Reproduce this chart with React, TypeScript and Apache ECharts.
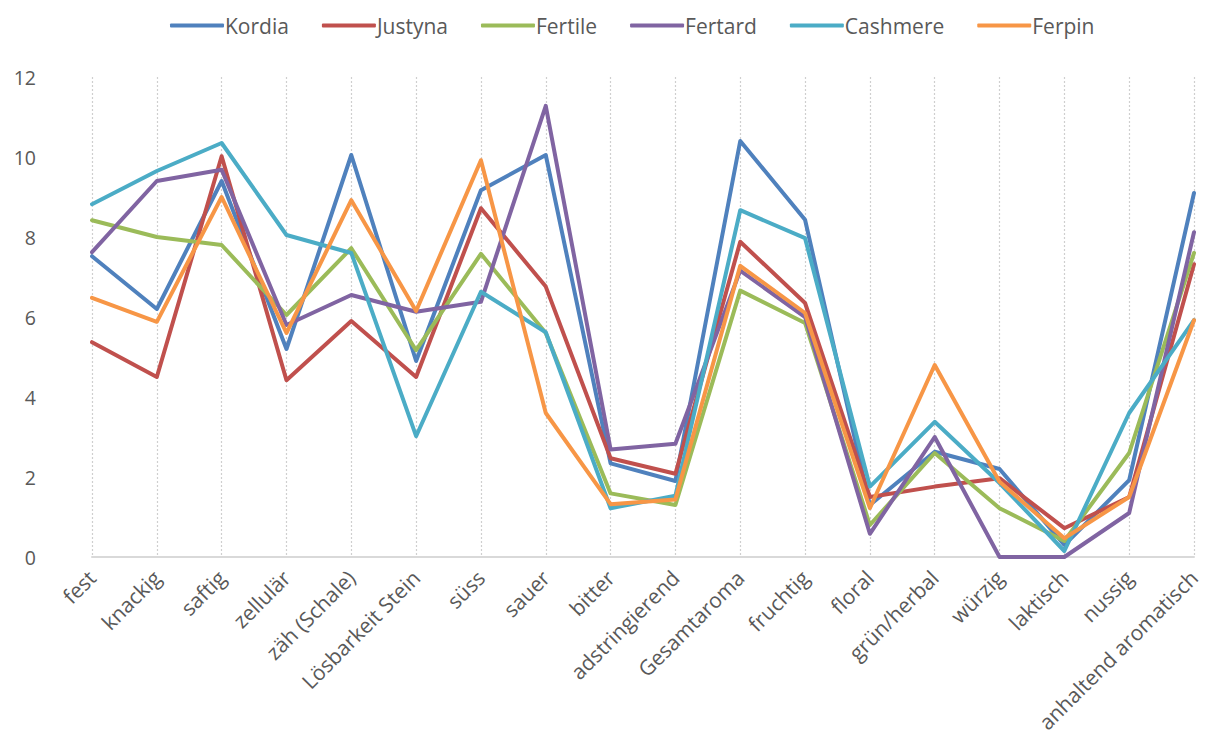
import React, { useEffect, useRef } from "react";
import * as echarts from "echarts";

const categories = [
  "fest", "knackig", "saftig", "zellulär", "zäh (Schale)", "Lösbarkeit Stein", "süss", "sauer",
  "bitter", "adstringierend", "Gesamtaroma", "fruchtig", "floral", "grün/herbal", "würzig",
  "laktisch", "nussig", "anhaltend aromatisch",
];

const kordia = [7.52, 6.2, 9.4, 5.2, 10.05, 4.9, 9.17, 10.05, 2.34, 1.9, 10.4, 8.43, 1.3, 2.63, 2.2, 0.3, 1.92, 9.1];
const justyna = [5.37, 4.5, 10.02, 4.42, 5.9, 4.5, 8.72, 6.76, 2.47, 2.08, 7.88, 6.35, 1.5, 1.76, 1.97, 0.72, 1.5, 7.32];
const fertile = [8.42, 8.0, 7.8, 6.05, 7.72, 5.17, 7.58, 5.6, 1.59, 1.3, 6.66, 5.85, 0.8, 2.6, 1.22, 0.4, 2.6, 7.6];
const fertard = [7.62, 9.4, 9.68, 5.8, 6.55, 6.13, 6.38, 11.28, 2.69, 2.83, 7.16, 6.0, 0.58, 3.0, 0.0, 0.0, 1.1, 8.12];
const cashmere = [8.82, 9.65, 10.35, 8.05, 7.6, 3.02, 6.63, 5.62, 1.22, 1.53, 8.67, 7.97, 1.76, 3.38, 1.85, 0.15, 3.6, 5.92];
const ferpin = [6.48, 5.88, 9.0, 5.6, 8.92, 6.15, 9.92, 3.6, 1.32, 1.44, 7.28, 6.1, 1.22, 4.8, 1.88, 0.47, 1.5, 5.92];

const seriesNames = ["Kordia", "Justyna", "Fertile", "Fertard", "Cashmere", "Ferpin"];
const seriesData = [kordia, justyna, fertile, fertard, cashmere, ferpin];
const colors = ["#4F81BD", "#C0504D", "#9BBB59", "#8064A2", "#4BACC6", "#F79646"];
const yTicks = { min: 0, max: 12, interval: 2 };

const FONT = "'Open Sans', 'Noto Sans', sans-serif";

export default function App() {
  const ref = useRef<HTMLDivElement>(null);
  useEffect(() => {
    if (!ref.current) return;
    const chart = echarts.init(ref.current, undefined, { renderer: "svg" });
    chart.setOption({
      animation: false,
      color: colors,
      textStyle: { fontFamily: FONT },
      legend: {
        top: 10,
        left: 165,
        itemWidth: 54,
        itemHeight: 4,
        itemGap: 33,
        icon: "roundRect",
        textStyle: { fontSize: 21, color: "#595959", fontFamily: FONT, padding: [0, 0, 0, -4] },
        data: seriesNames,
      },
      grid: { left: 92, right: 24, top: 77, bottom: 188, containLabel: false },
      xAxis: {
        type: "category",
        data: categories,
        boundaryGap: false,
        axisLine: { show: true, lineStyle: { color: "#D9D9D9", width: 2 } },
        axisTick: { show: false },
        axisLabel: {
          interval: 0,
          rotate: 45,
          fontSize: 21,
          color: "#595959",
          fontFamily: FONT,
          margin: 17,
        },
        splitLine: {
          show: true,
          interval: 0,
          lineStyle: { color: "#CFCFCF", type: [2, 2], width: 1.2 },
        },
      },
      yAxis: {
        type: "value",
        min: yTicks.min,
        max: yTicks.max,
        interval: yTicks.interval,
        axisLine: { show: false },
        axisTick: { show: false },
        splitLine: { show: false },
        axisLabel: { fontSize: 19.5, color: "#595959", fontFamily: FONT, margin: 56 },
      },
      series: seriesNames.map((name, i) => ({
        name,
        type: "line",
        data: seriesData[i],
        symbol: "none",
        lineStyle: { width: 4, color: colors[i], cap: "round", join: "round" },
        itemStyle: { color: colors[i] },
      })),
    });
    return () => chart.dispose();
  }, []);
  return (
    <div
      ref={ref}
      style={{ position: "absolute", left: 0, top: 0, width: 1218, height: 745, background: "#fff" }}
    />
  );
}
